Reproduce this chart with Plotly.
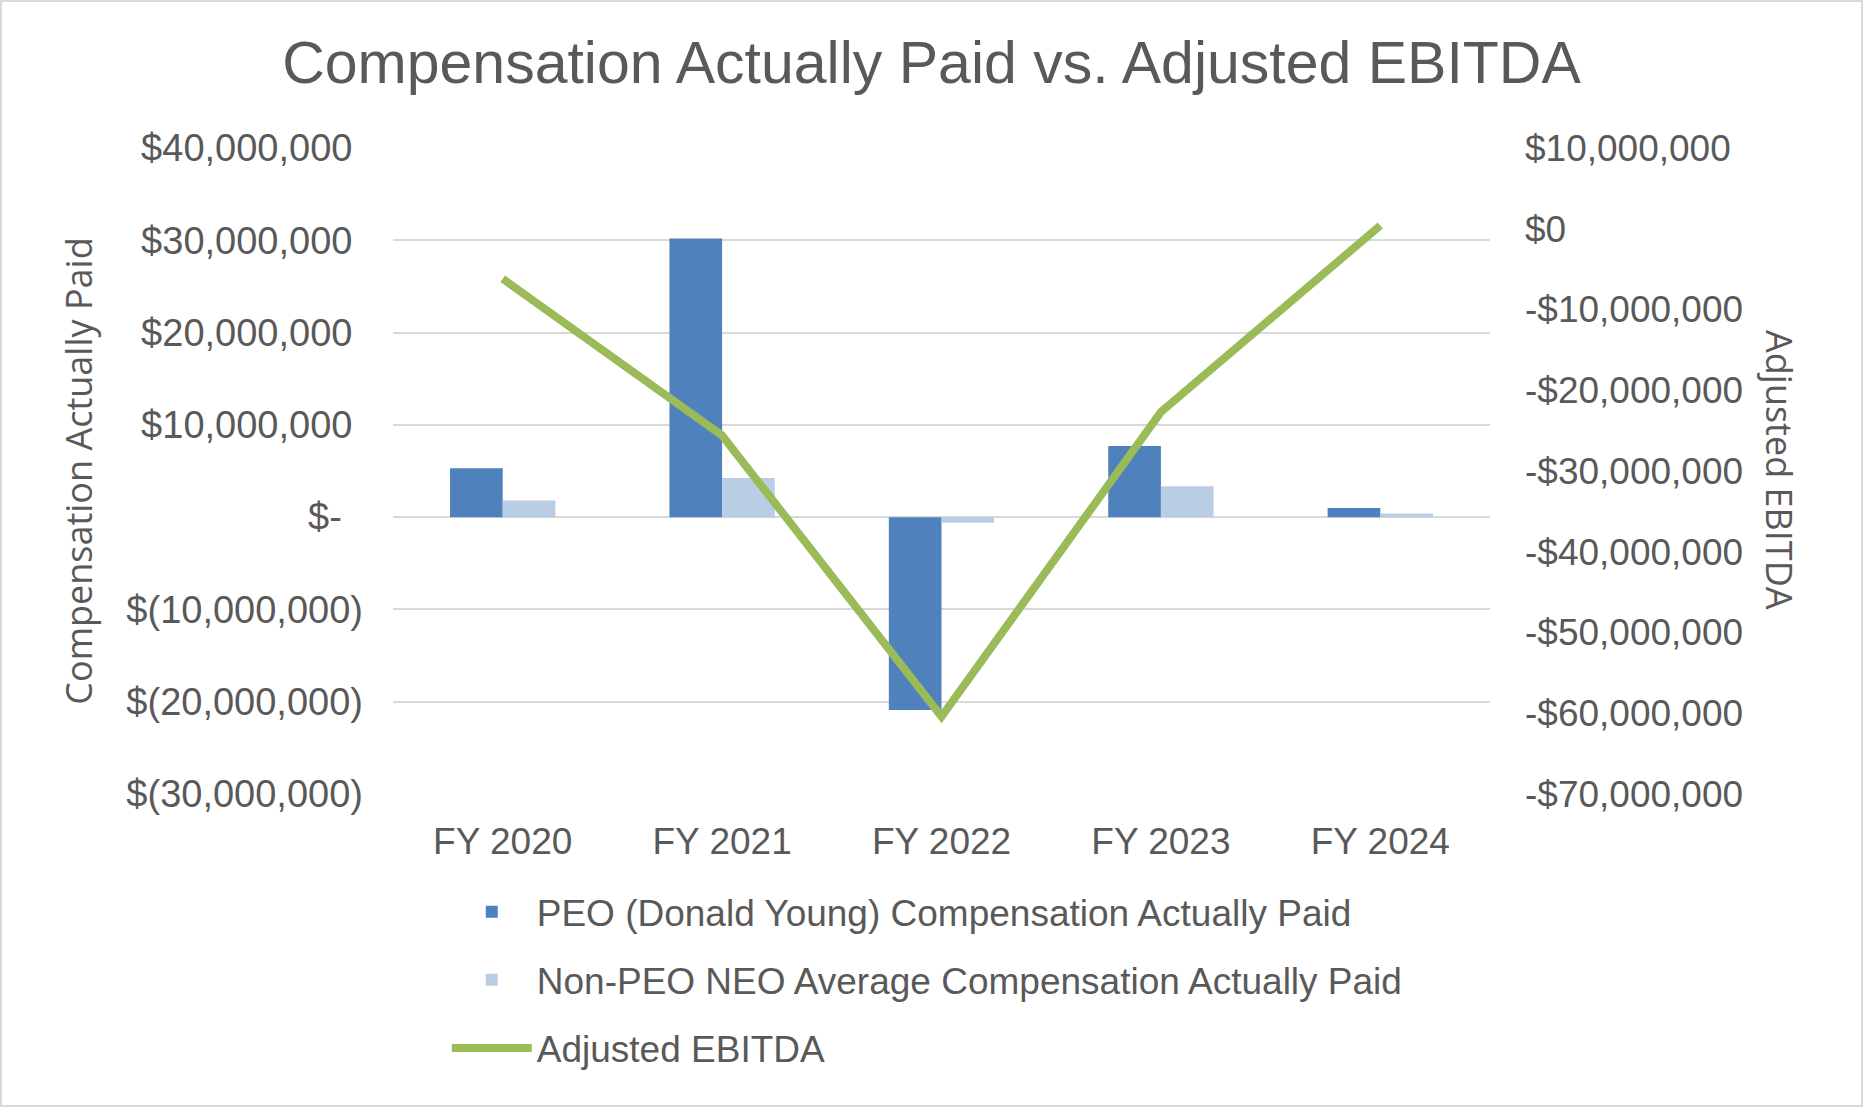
import plotly.graph_objects as go

categories = ["FY 2020", "FY 2021", "FY 2022", "FY 2023", "FY 2024"]
peo_cap = [5300000, 30200000, -20900000, 7700000, 1000000]
non_peo_cap = [1800000, 4250000, -600000, 3350000, 400000]
adj_ebitda = [-6200000, -25600000, -60400000, -22700000, 400000]

NB = "\u00a0"
left_tickvals = [40e6, 30e6, 20e6, 10e6, 0, -10e6, -20e6, -30e6]
left_ticktext = ["$40,000,000" + NB, "$30,000,000" + NB, "$20,000,000" + NB, "$10,000,000" + NB,
                 "$-" + NB + NB, "$(10,000,000)", "$(20,000,000)", "$(30,000,000)"]
right_tickvals = [10e6, 0, -10e6, -20e6, -30e6, -40e6, -50e6, -60e6, -70e6]
right_ticktext = ["$10,000,000", "$0", "-$10,000,000", "-$20,000,000", "-$30,000,000",
                  "-$40,000,000", "-$50,000,000", "-$60,000,000", "-$70,000,000"]

W, H = 1863, 1107
ML, MR, MT, MB = 393, 373, 148, 313
FONT = "Liberation Sans, Arial, sans-serif"
TFONT = "Open Sans, sans-serif"
TXT = "#595959"

fig = go.Figure()
fig.add_trace(go.Bar(x=categories, y=peo_cap, name="PEO (Donald Young) Compensation Actually Paid",
                     marker=dict(color="#4F81BD", line=dict(width=0)), legendgroup="a"))
fig.add_trace(go.Bar(x=categories, y=non_peo_cap, name="Non-PEO NEO Average Compensation Actually Paid",
                     marker=dict(color="#B9CDE5", line=dict(width=0)), legendgroup="b"))
fig.add_trace(go.Scatter(x=categories, y=adj_ebitda, name="Adjusted EBITDA", mode="lines",
                         line=dict(color="#9BBB59", width=8), yaxis="y2", legendgroup="c"))

pw = W - ML - MR
ph = H - MT - MB

fig.update_layout(
    width=W, height=H,
    margin=dict(l=ML, r=MR, t=MT, b=MB),
    paper_bgcolor="white", plot_bgcolor="white",
    font=dict(family=FONT, size=37, color=TXT),
    title=dict(text="Compensation Actually Paid vs. Adjusted EBITDA", x=0.5, xanchor="center",
               y=1 - 62 / H, yanchor="middle", yref="container",
               font=dict(family=FONT, size=59, color=TXT)),
    barmode="group", bargap=0.52, bargroupgap=0,
    xaxis=dict(showgrid=False, zeroline=False, showline=False, ticks="",
               ticklabelstandoff=22, tickfont=dict(size=37, color=TXT)),
    yaxis=dict(range=[-30e6, 40e6], tickvals=left_tickvals, ticktext=left_ticktext,
               showgrid=True, gridcolor="#D9D9D9", gridwidth=2, zeroline=False, showline=False,
               ticks="", ticklabelstandoff=29, tickfont=dict(size=38, color=TXT),
               title=dict(text="Compensation Actually Paid", standoff=22,
                          font=dict(family=TFONT, size=36, color=TXT))),
    yaxis2=dict(range=[-70e6, 10e6], tickvals=right_tickvals, ticktext=right_ticktext,
                overlaying="y", side="right", showgrid=False, zeroline=False, showline=False,
                ticks="", ticklabelstandoff=34, tickfont=dict(size=37, color=TXT)),
    legend=dict(x=0.049, xanchor="left", y=-0.135, yanchor="top", orientation="v",
                bgcolor="rgba(0,0,0,0)", font=dict(size=37, color=TXT),
                tracegroupgap=17, itemwidth=80, traceorder="grouped"),
    annotations=[dict(text="Adjusted EBITDA", textangle=90, xref="paper", yref="paper",
                      x=(1780 - ML) / pw, y=(H - MB - 470) / ph, xanchor="center", yanchor="middle",
                      showarrow=False, font=dict(family=TFONT, size=36, color=TXT))],
    shapes=[dict(type="rect", xref="paper", yref="paper",
                 x0=-(ML - 1) / pw, x1=1 + (MR - 1) / pw, y0=-(MB - 1) / ph, y1=1 + (MT - 1) / ph,
                 line=dict(color="#D9D9D9", width=2), fillcolor="rgba(0,0,0,0)", layer="below")],
)

fig.write_html("out.html", config={"displayModeBar": False},
               post_script="document.body.style.margin='0px';")
